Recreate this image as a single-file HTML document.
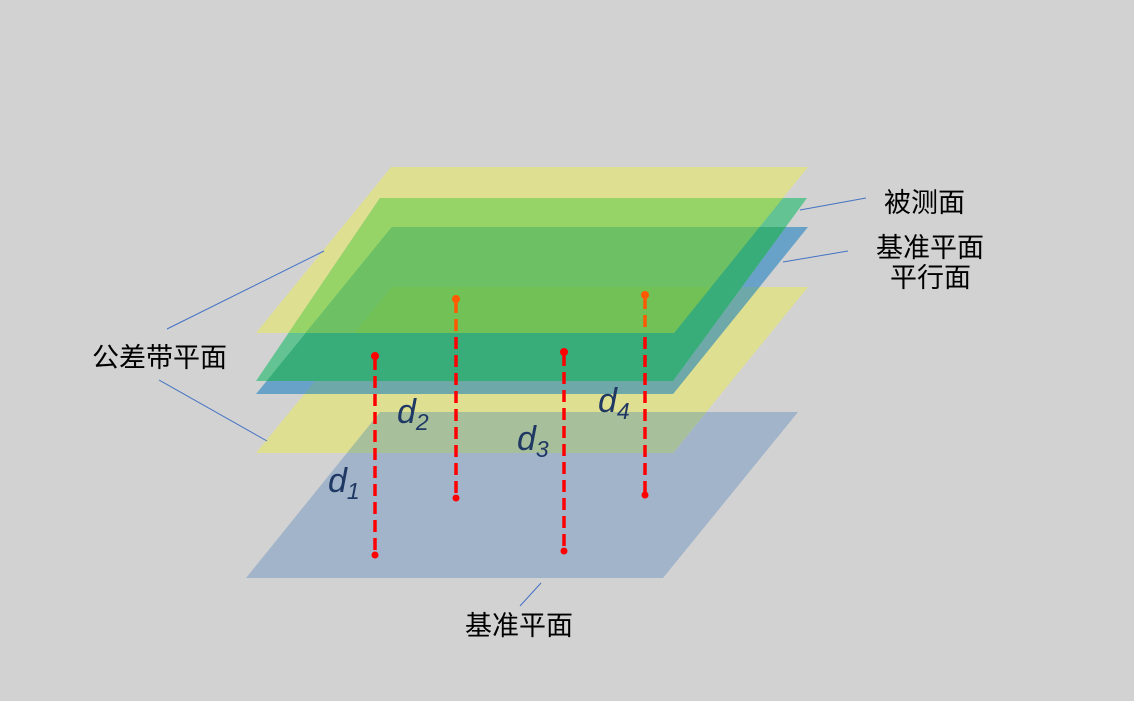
<!DOCTYPE html>
<html><head><meta charset="utf-8"><style>
html,body{margin:0;padding:0;background:#d2d2d2;}
svg{display:block;}
.cn{font-family:"Liberation Sans","Noto Sans CJK SC",sans-serif;font-size:27px;fill:#000;}
.d{font-family:"Liberation Sans",sans-serif;font-style:italic;fill:#1f3864;font-size:34px;}
.s{font-size:23px;}
</style></head><body>
<svg width="1134" height="701" viewBox="0 0 1134 701" xmlns="http://www.w3.org/2000/svg">
<defs>
<clipPath id="cBB"><polygon points="380,412 798,412 663,578 246,578"/></clipPath>
<clipPath id="cLY"><polygon points="392,287 808,287 673,453 256,453"/></clipPath>
<clipPath id="cBP"><polygon points="392,227 808,227 673,394 256,394"/></clipPath>
<clipPath id="cTY"><polygon points="391,167 808,167 674,333 256,333"/></clipPath>
<clipPath id="cG"><polygon points="380,198 807,198 673,381 256,381"/></clipPath>
</defs>
<rect width="1134" height="701" fill="#d2d2d2"/>
<polygon points="380,412 798,412 663,578 246,578" fill="#a1b4c9"/>
<polygon points="392,287 808,287 673,453 256,453" fill="#dfdf92"/>
<g clip-path="url(#cBB)"><polygon points="392,287 808,287 673,453 256,453" fill="#a8bf9c"/></g>
<polygon points="392,227 808,227 673,394 256,394" fill="#68a2c8"/>
<g clip-path="url(#cLY)"><polygon points="392,227 808,227 673,394 256,394" fill="#6ea8a8"/></g>
<polygon points="391,167 808,167 674,333 256,333" fill="#dfdf92"/>
<g clip-path="url(#cBP)"><polygon points="391,167 808,167 674,333 256,333" fill="#8fbf9a"/></g>
<polygon points="380,198 807,198 673,381 256,381" fill="#64c393"/>
<g clip-path="url(#cTY)"><polygon points="380,198 807,198 673,381 256,381" fill="#96d468"/></g>
<g clip-path="url(#cBP)"><polygon points="380,198 807,198 673,381 256,381" fill="#38ad79"/>
<g clip-path="url(#cTY)"><polygon points="380,198 807,198 673,381 256,381" fill="#6dc063"/></g></g>
<g clip-path="url(#cLY)"><g clip-path="url(#cTY)"><polygon points="380,198 807,198 673,381 256,381" fill="#72c156"/></g></g>

<g stroke-width="3.5" stroke-dasharray="12,6" fill="none">
<line x1="375" y1="358" x2="375" y2="555" stroke="#ff0000"/>
<line x1="456" y1="301" x2="456" y2="333" stroke="#ff5a00"/>
<line x1="456" y1="337" x2="456" y2="498" stroke="#ff0000"/>
<line x1="564" y1="354" x2="564" y2="551" stroke="#ff0000"/>
<line x1="645" y1="297" x2="645" y2="333" stroke="#ff5a00"/>
<line x1="645" y1="337" x2="645" y2="495" stroke="#ff0000"/>
</g>
<g>
<circle cx="375" cy="356" r="4" fill="#ff0000"/>
<circle cx="375" cy="555" r="3.5" fill="#ff0000"/>
<circle cx="456" cy="299" r="4" fill="#ff5a00"/>
<circle cx="456" cy="498" r="3.5" fill="#ff0000"/>
<circle cx="564" cy="352" r="4" fill="#ff0000"/>
<circle cx="564" cy="551" r="3.5" fill="#ff0000"/>
<circle cx="645" cy="295" r="4" fill="#ff5a00"/>
<circle cx="645" cy="495" r="3.5" fill="#ff0000"/>
</g>
<text class="d" x="328" y="492">d<tspan class="s" dy="7">1</tspan></text>
<text class="d" x="397" y="423">d<tspan class="s" dy="7">2</tspan></text>
<text class="d" x="517" y="450">d<tspan class="s" dy="7">3</tspan></text>
<text class="d" x="598" y="412">d<tspan class="s" dy="7">4</tspan></text>

<g stroke="#4472c4" stroke-width="1" fill="none">
<line x1="800" y1="210" x2="866" y2="198"/>
<line x1="783" y1="262" x2="848" y2="251"/>
<line x1="167" y1="329" x2="324" y2="251"/>
<line x1="159" y1="380" x2="267" y2="441"/>
<line x1="520" y1="606" x2="541" y2="583"/>
</g>
<text class="cn" x="884" y="212">被测面</text>
<text class="cn" x="876" y="257">基准平面</text>
<text class="cn" x="890" y="287">平行面</text>
<text class="cn" x="92" y="367">公差带平面</text>
<text class="cn" x="465" y="635">基准平面</text>
</svg>
</body></html>
